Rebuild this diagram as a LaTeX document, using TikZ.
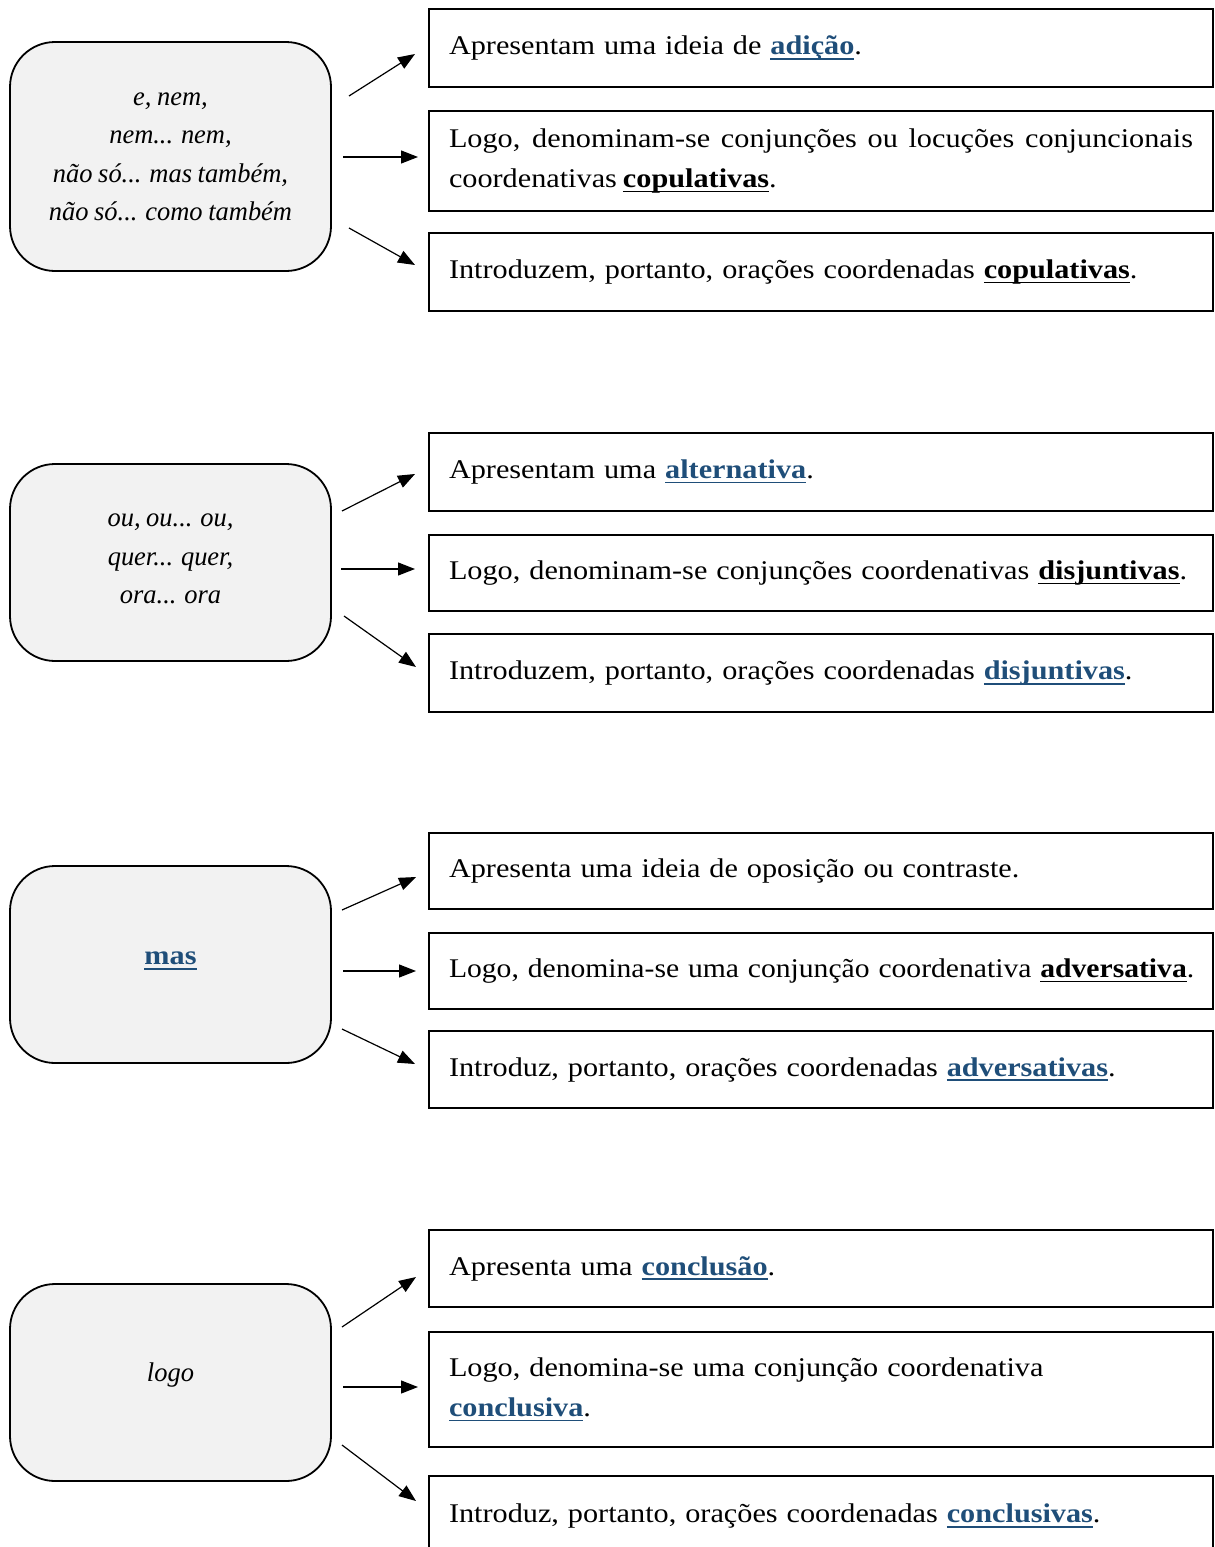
\documentclass[tikz,border=0pt]{standalone}
\usepackage{graphicx}
\usepackage{fontspec}
\setmainfont{Liberation Serif}[FakeStretch=1.12, WordSpace=0.8]
\newfontfamily\leftit{Liberation Serif}[FakeStretch=0.98, WordSpace=0.85]
\usetikzlibrary{arrows.meta}
\definecolor{linkblue}{HTML}{1F4E79}
\definecolor{boxgray}{HTML}{F2F2F2}
\newcommand\ulx[1]{\leavevmode\setbox0\hbox{#1}\rlap{\rule[-5pt]{\wd0}{1.8pt}}\box0}
\newcommand\kb[1]{\ulx{\textbf{#1}}}
\newcommand\bb[1]{\leavevmode{\color{linkblue}\ulx{\textbf{#1}}}}
\newcommand\nohyph{\hyphenpenalty=10000\relax\exhyphenpenalty=10000\relax}
\tikzset{
  leftbox/.style={draw=black, line width=1.8pt, fill=boxgray, rounded corners=45pt,
    minimum width=321pt, inner sep=0pt},
  lefttext/.style={align=center, font=\fontsize{27}{38.5}\selectfont\leftit\itshape, inner sep=0pt},
  rbox/.style={draw=black, line width=1.7pt, minimum width=784pt, text width=744pt,
    inner xsep=20pt, inner ysep=0pt, align=left,
    font=\fontsize{27}{40}\selectfont, execute at begin node=\nohyph},
  arr/.style={line width=1.2pt, -{Triangle[length=17pt,width=13pt]}}
}
\begin{document}
\begin{tikzpicture}[x=1pt,y=-1pt]
\useasboundingbox (0,0) rectangle (1215,1547);
% ---------- group 1
\node[leftbox, minimum height=229pt] (L1) at (170.5,156.5) {};
\node[lefttext] (t1) at (170.5,157) {e, nem,\\nem... nem,\\não só... mas também,\\não só... como também};
\node[rbox, minimum height=78pt] (a1) at (821,48) {Apresentam uma ideia de \bb{adição}.};
\node[rbox, minimum height=100pt, align=justify] (a2) at (821,161) {Logo, denominam-se conjunções ou locuções conjuncionais coordenativas \kb{copulativas}.};
\node[rbox, minimum height=78pt] (a3) at (821,272) {Introduzem, portanto, orações coordenadas \kb{copulativas}.};
\coordinate (s11) at (349,96);  \coordinate (e11) at (415,54);
\coordinate (s12) at (343,157); \coordinate (e12) at (418,157);
\coordinate (s13) at (349,228); \coordinate (e13) at (415,265);
\draw[arr] (s11) -- (e11);
\draw[arr] (s12) -- (e12);
\draw[arr] (s13) -- (e13);
% ---------- group 2
\node[leftbox, minimum height=197pt] (L2) at (170.5,562.5) {};
\node[lefttext] (t2) at (170.5,559) {ou, ou... ou,\\quer... quer,\\ora... ora};
\node[rbox, minimum height=78pt] (b1) at (821,472) {Apresentam uma \bb{alternativa}.};
\node[rbox, minimum height=76pt] (b2) at (821,573) {Logo, denominam-se conjunções coordenativas \kb{disjuntivas}.};
\node[rbox, minimum height=78pt] (b3) at (821,673) {Introduzem, portanto, orações coordenadas \bb{disjuntivas}.};
\coordinate (s21) at (342,511); \coordinate (e21) at (415,474);
\coordinate (s22) at (341,569); \coordinate (e22) at (415,569);
\coordinate (s23) at (344,616); \coordinate (e23) at (416,667);
\draw[arr] (s21) -- (e21);
\draw[arr] (s22) -- (e22);
\draw[arr] (s23) -- (e23);
% ---------- group 3
\node[leftbox, minimum height=197pt] (L3) at (170.5,964.5) {};
\node[lefttext, font=\fontsize{27}{38.5}\selectfont] (t3) at (170.5,961) {\bb{mas}};
\node[rbox, minimum height=76pt] (c1) at (821,871) {Apresenta uma ideia de oposição ou contraste.};
\node[rbox, minimum height=76pt] (c2) at (821,971) {\scalebox{0.98}[1]{\mbox{Logo, denomina-se uma conjunção coordenativa \kb{adversativa}.}}};
\node[rbox, minimum height=77pt] (c3) at (821,1069.5) {Introduz, portanto, orações coordenadas \bb{adversativas}.};
\coordinate (s31) at (342,910);  \coordinate (e31) at (416,877);
\coordinate (s32) at (343,971);  \coordinate (e32) at (416,971);
\coordinate (s33) at (342,1029); \coordinate (e33) at (415,1064);
\draw[arr] (s31) -- (e31);
\draw[arr] (s32) -- (e32);
\draw[arr] (s33) -- (e33);
% ---------- group 4
\node[leftbox, minimum height=197pt] (L4) at (170.5,1382.5) {};
\node[lefttext] (t4) at (170.5,1375) {logo};
\node[rbox, minimum height=77pt] (d1) at (821,1268.5) {Apresenta uma \bb{conclusão}.};
\node[rbox, minimum height=115pt] (d2) at (821,1389.5) {Logo, denomina-se uma conjunção coordenativa\\\bb{conclusiva}.};
\node[rbox, minimum height=80pt] (d3) at (821,1516) {Introduz, portanto, orações coordenadas \bb{conclusivas}.};
\coordinate (s41) at (342,1327); \coordinate (e41) at (416,1277);
\coordinate (s42) at (343,1387); \coordinate (e42) at (418,1387);
\coordinate (s43) at (342,1445); \coordinate (e43) at (416,1501);
\draw[arr] (s41) -- (e41);
\draw[arr] (s42) -- (e42);
\draw[arr] (s43) -- (e43);
\end{tikzpicture}
\end{document}
